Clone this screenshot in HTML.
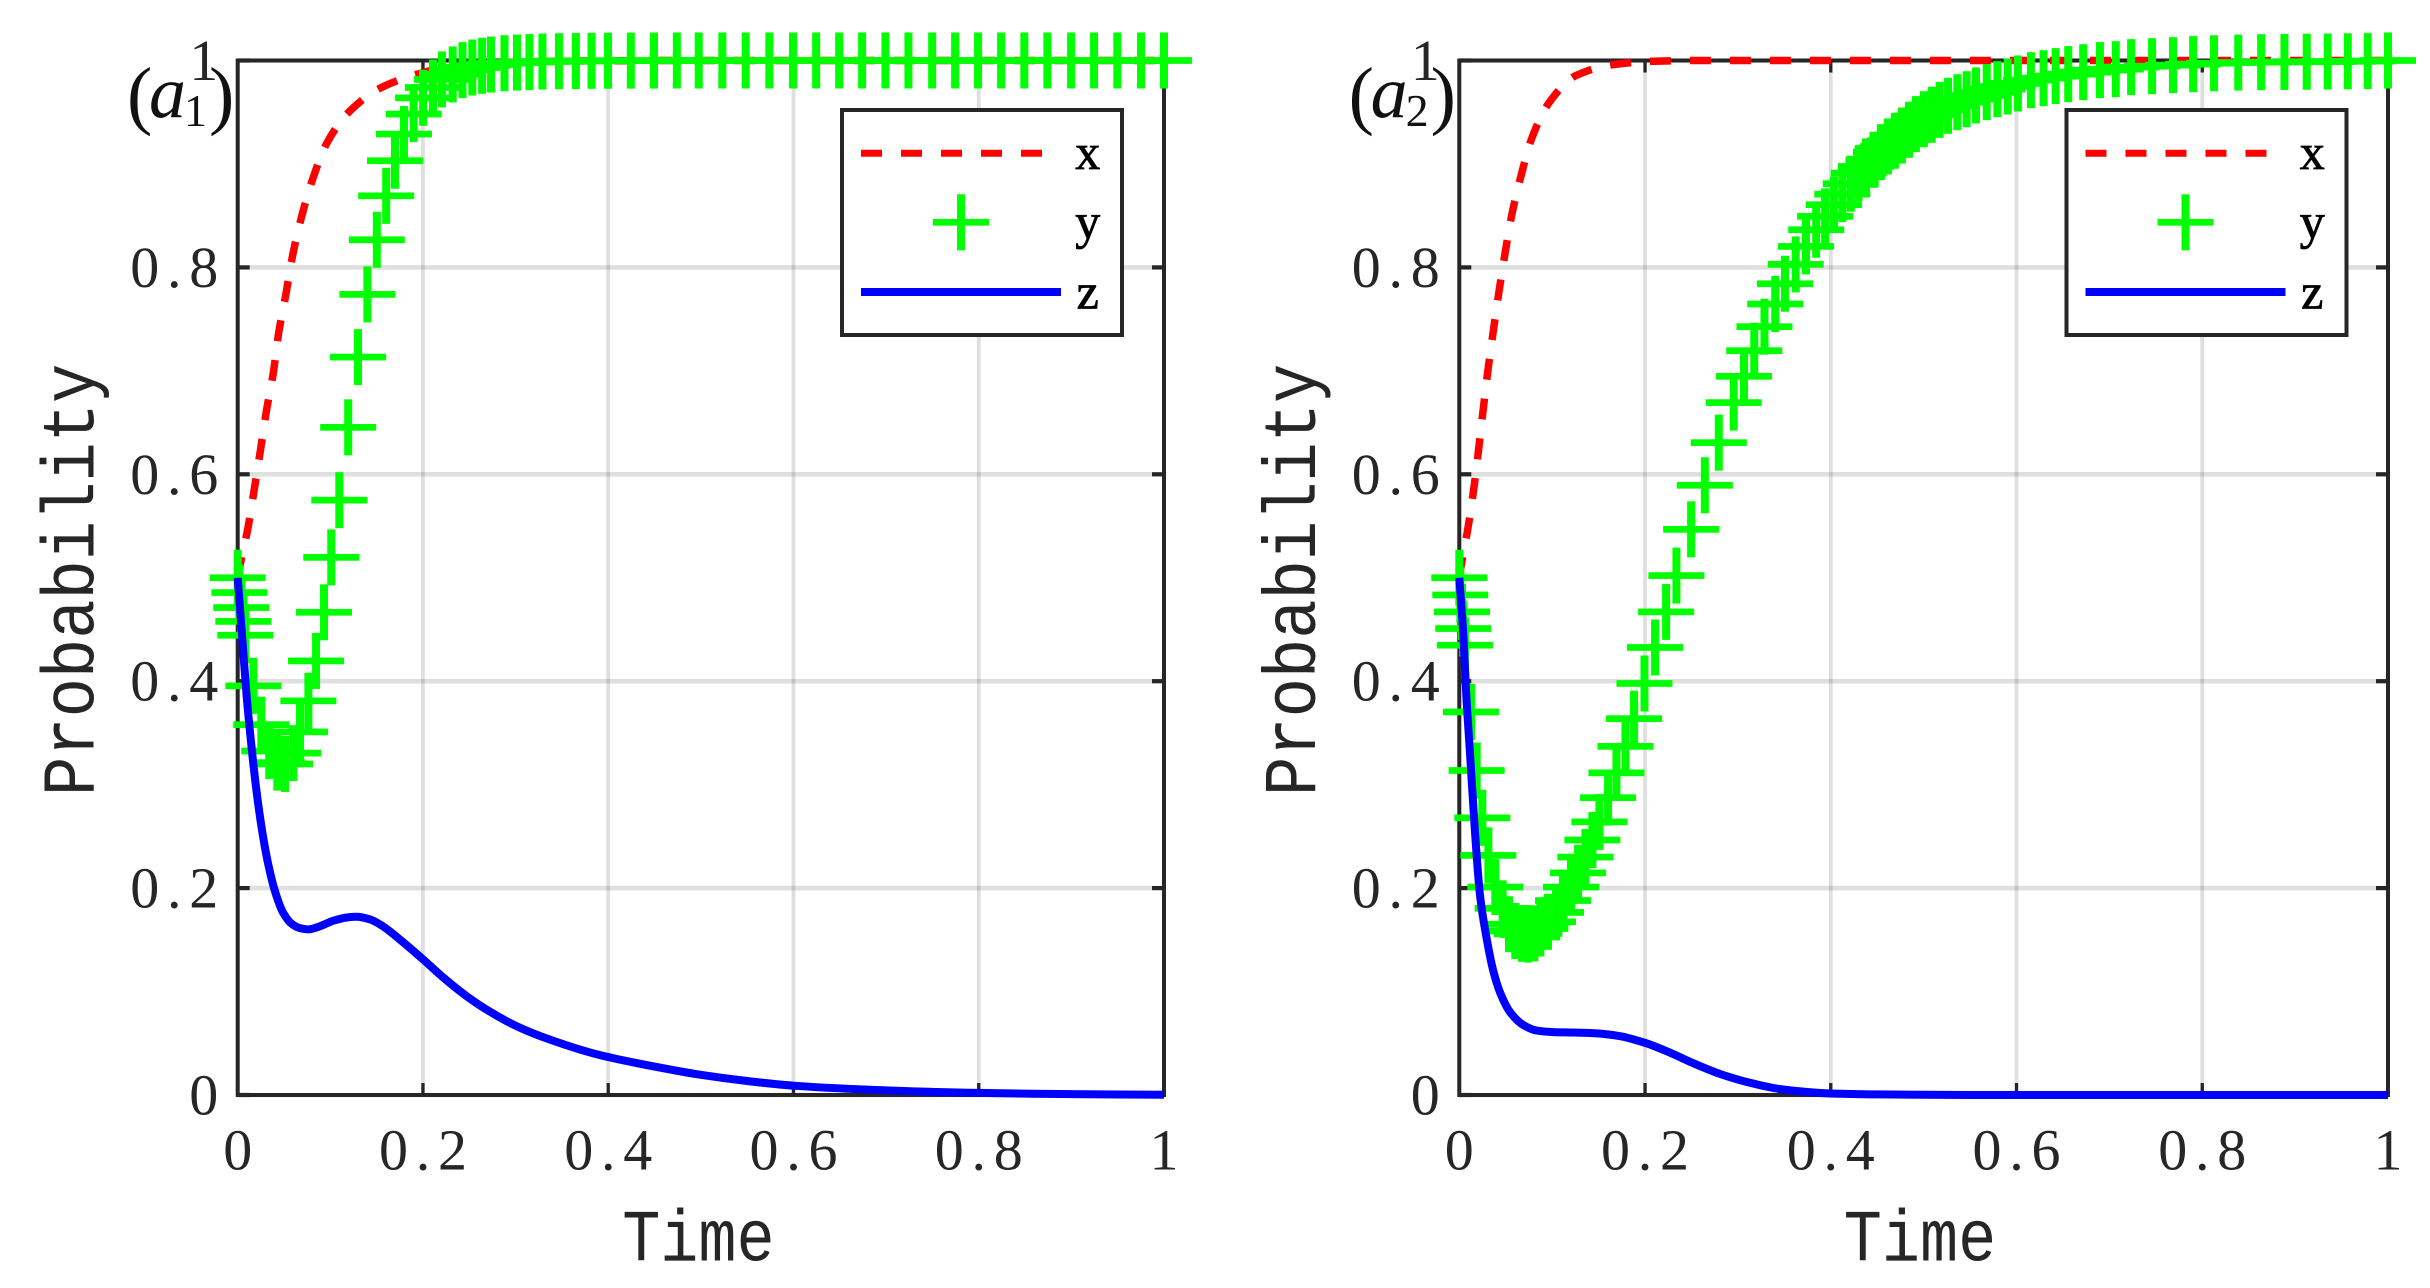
<!DOCTYPE html>
<html lang="en">
<head>
<meta charset="utf-8">
<title>Probability over time: panels a1 and a2</title>
<style>
html,body{margin:0;padding:0;background:#fff;width:2430px;height:1288px;overflow:hidden}
svg{display:block}
text{font-family:"Liberation Serif",serif;fill:#262626}
</style>
</head>
<body>
<svg id="figure" xmlns="http://www.w3.org/2000/svg" width="2430" height="1288" viewBox="0 0 2430 1288"></svg>
<script>
/* Shared axis ticks */
const xTicks = [0, 0.2, 0.4, 0.6, 0.8, 1];
const yTicks = [0, 0.2, 0.4, 0.6, 0.8, 1];
const xTickLabels = ["0", "0.2", "0.4", "0.6", "0.8", "1"];
const yTickLabels = ["0", "0.2", "0.4", "0.6", "0.8", "1"];
const legendLabels = ["x", "y", "z"];

/* Panel a1 */
const a1XTime = [0,0.005,0.0107,0.0169,0.024,0.0311,0.0383,0.0441,0.0518,0.0591,0.0687,0.0808,0.0962,0.1217,0.1545,0.1892,0.225,0.26,0.3,0.35,0.4,0.5,0.6,0.8,1];
const a1XValues = [0.5,0.523,0.5464,0.58,0.62,0.6618,0.6972,0.7359,0.7729,0.8106,0.848,0.885,0.9201,0.9517,0.9736,0.9855,0.9933,0.9965,0.9985,0.9994,0.9998,1,1,1,1];
const a1YTime = [0,0.0018,0.0039,0.0061,0.0083,0.0169,0.0255,0.0341,0.0428,0.0511,0.06,0.0673,0.0763,0.0846,0.0932,0.101,0.1097,0.1193,0.1299,0.14,0.1502,0.1603,0.1698,0.1795,0.19,0.2002,0.2108,0.2205,0.2321,0.2427,0.2533,0.2639,0.2735,0.288,0.3015,0.315,0.329,0.3468,0.3651,0.382,0.3998,0.4244,0.4494,0.4741,0.4977,0.5232,0.5484,0.574,0.5995,0.6245,0.6493,0.6741,0.6993,0.7241,0.7497,0.7745,0.7993,0.8241,0.8492,0.8741,0.8997,0.9245,0.9496,0.9752,1];
const a1YValues = [0.5,0.4857,0.4712,0.4578,0.4444,0.3955,0.358,0.3325,0.3213,0.32,0.3305,0.351,0.381,0.4196,0.4666,0.5197,0.575,0.6454,0.7133,0.7739,0.8267,0.8692,0.9031,0.9289,0.9482,0.9639,0.9739,0.9817,0.9865,0.9907,0.9932,0.9949,0.9961,0.9974,0.998,0.9985,0.999,0.9993,0.9995,0.9997,0.9998,0.9999,0.9999,1,1,1,1,1,1,1,1,1,1,1,1,1,1,1,1,1,1,1,1,1,1];
const a1ZTime = [0,0.0043,0.0097,0.0151,0.0205,0.0259,0.0331,0.0403,0.0493,0.0583,0.0673,0.0763,0.0889,0.1033,0.1177,0.1285,0.1429,0.1573,0.1752,0.2001,0.222,0.2472,0.2724,0.3012,0.3372,0.3912,0.45,0.5,0.55,0.6,0.7,0.8,0.9,1];
const a1ZValues = [0.5,0.449,0.385,0.335,0.2925,0.258,0.2225,0.1968,0.1758,0.1655,0.1613,0.1601,0.1632,0.1685,0.1716,0.1723,0.1697,0.1628,0.1502,0.1311,0.1135,0.0955,0.0805,0.0665,0.0535,0.0385,0.0275,0.0195,0.0135,0.009,0.0045,0.002,0.0008,0.0002];

/* Panel a2 */
const a2XTime = [0,0.0045,0.009,0.0162,0.0255,0.0305,0.0363,0.0424,0.0489,0.0564,0.0661,0.0776,0.0963,0.1257,0.1663,0.2094,0.26,0.4,0.6,0.8,1];
const a2XValues = [0.5,0.525,0.5464,0.59,0.6609,0.6982,0.7365,0.7746,0.8116,0.8503,0.8873,0.9237,0.9587,0.9855,0.9961,0.9993,1,1,1,1,1];
const a2YTime = [0,0.0011,0.0029,0.0043,0.0061,0.0126,0.0187,0.0248,0.0313,0.0388,0.0467,0.0535,0.0603,0.0672,0.074,0.0808,0.0873,0.0955,0.1042,0.1117,0.1203,0.1279,0.1358,0.1433,0.1509,0.1602,0.1692,0.1789,0.1882,0.1994,0.2108,0.2227,0.2338,0.2496,0.2644,0.2794,0.2955,0.3066,0.3176,0.3286,0.3402,0.3507,0.3622,0.3733,0.3843,0.3939,0.4034,0.4124,0.4215,0.43,0.4379,0.446,0.454,0.4615,0.4691,0.4766,0.4842,0.4916,0.5002,0.5087,0.5172,0.5263,0.5363,0.5463,0.5564,0.5679,0.5794,0.5905,0.6015,0.6155,0.6291,0.6421,0.6557,0.6718,0.6898,0.7069,0.7234,0.746,0.7685,0.7902,0.8127,0.8388,0.8634,0.8885,0.9125,0.9351,0.9567,0.9782,1];
const a2YValues = [0.5,0.4834,0.467,0.4509,0.4348,0.3703,0.3137,0.2679,0.2316,0.201,0.1804,0.1651,0.1585,0.1558,0.1551,0.1562,0.1609,0.1674,0.1765,0.188,0.201,0.2147,0.23,0.2465,0.264,0.2874,0.3114,0.337,0.3638,0.3978,0.4326,0.467,0.5021,0.5468,0.5894,0.6306,0.6693,0.6947,0.7195,0.7427,0.7646,0.7842,0.8029,0.8203,0.8364,0.8493,0.8606,0.8708,0.8809,0.8911,0.8976,0.904,0.9114,0.9169,0.9224,0.9275,0.933,0.9385,0.9433,0.9475,0.9523,0.9562,0.9597,0.9626,0.9662,0.9694,0.9723,0.9749,0.9778,0.981,0.9829,0.9849,0.9868,0.9887,0.9907,0.9916,0.9936,0.9945,0.9955,0.9965,0.9974,0.998,0.9984,0.9986,0.9988,0.999,0.9992,0.9994,1];
const a2ZTime = [0,0.0043,0.0079,0.0115,0.0169,0.0223,0.0295,0.0366,0.0438,0.0546,0.069,0.0833,0.1013,0.1228,0.148,0.1731,0.2,0.227,0.2522,0.2809,0.3096,0.3455,0.4,0.45,0.5,0.6,0.8,1];
const a2ZValues = [0.5,0.445,0.38,0.3305,0.254,0.193,0.151,0.12,0.0993,0.0802,0.0676,0.0623,0.0608,0.0604,0.0596,0.0569,0.0504,0.0409,0.0306,0.0203,0.0126,0.0057,0.0015,0.0006,0.0002,0,0,0];

const NS = "http://www.w3.org/2000/svg";
const AXIS = "#262626";
const MONO = '"Liberation Mono",monospace';
const svgRoot = document.getElementById("figure");

function make(parent, tag, attrs, content) {
  const node = document.createElementNS(NS, tag);
  for (const k in attrs) node.setAttribute(k, attrs[k]);
  if (content !== undefined) node.textContent = content;
  parent.appendChild(node);
  return node;
}

/* Monotone cubic through the pixel points, so the ODE curves stay smooth */
function smoothPath(px, py) {
  const n = px.length, d = [], m = [];
  for (let i = 0; i < n - 1; i++) d.push((py[i + 1] - py[i]) / (px[i + 1] - px[i]));
  m.push(d[0]);
  for (let i = 1; i < n - 1; i++) {
    if (d[i - 1] * d[i] <= 0) { m.push(0); continue; }
    const h0 = px[i] - px[i - 1], h1 = px[i + 1] - px[i];
    const w0 = 2 * h1 + h0, w1 = h1 + 2 * h0;
    m.push((w0 + w1) / (w0 / d[i - 1] + w1 / d[i]));
  }
  m.push(d[n - 2]);
  let path = "M" + px[0].toFixed(2) + " " + py[0].toFixed(2);
  for (let i = 0; i < n - 1; i++) {
    const h = (px[i + 1] - px[i]) / 3;
    path += "C" + (px[i] + h).toFixed(2) + " " + (py[i] + m[i] * h).toFixed(2) + " " +
      (px[i + 1] - h).toFixed(2) + " " + (py[i + 1] - m[i + 1] * h).toFixed(2) + " " +
      px[i + 1].toFixed(2) + " " + py[i + 1].toFixed(2);
  }
  return path;
}

/* Tick labels are pitched like a fixed-width face */
function charPositions(label, firstCentre, pitch, size) {
  const xs = [];
  for (let i = 0; i < label.length; i++) {
    const adv = (label[i] === "." ? 0.25 : 0.5) * size;
    xs.push((firstCentre + i * pitch - adv / 2).toFixed(2));
  }
  return xs.join(" ");
}

function plusMarker(parent, cx, cy, name) {
  const g = make(parent, "g", {});
  
  
  make(g, "rect", { x: cx - 28, y: cy - 3.35, width: 56, height: 6.7, fill: "#00ff00" });
  make(g, "rect", { x: cx - 4, y: cy - 28, width: 8, height: 56, fill: "#00ff00" });
}

function drawPanel(id, left, right, legendDx, tag, xT, xV, yT, yV, zT, zV) {
  const top = 60.5, bottom = 1095;
  const sx = t => left + t * (right - left);
  const sy = v => bottom - v * (bottom - top);

  const panel = make(svgRoot, "g", {});
  
  

  const grid = make(panel, "g", { stroke: AXIS, "stroke-opacity": 0.15 });
  
  
  xTicks.forEach(t => make(grid, "line", { x1: sx(t), x2: sx(t), y1: top, y2: bottom, "stroke-width": 3.8 }));
  yTicks.forEach(v => make(grid, "line", { x1: left, x2: right, y1: sy(v), y2: sy(v), "stroke-width": 4.6 }));

  const box = make(panel, "rect", { x: left, y: top, width: right - left, height: bottom - top, fill: "none", stroke: AXIS, "stroke-width": 4 });
  
  

  const ticks = make(panel, "g", { stroke: AXIS });
  
  
  xTicks.forEach(t => {
    make(ticks, "line", { x1: sx(t), x2: sx(t), y1: bottom, y2: bottom - 12, "stroke-width": 3.3 });
    make(ticks, "line", { x1: sx(t), x2: sx(t), y1: top, y2: top + 12, "stroke-width": 3.3 });
  });
  yTicks.forEach(v => {
    make(ticks, "line", { x1: left, x2: left + 12, y1: sy(v), y2: sy(v), "stroke-width": 4.2 });
    make(ticks, "line", { x1: right, x2: right - 12, y1: sy(v), y2: sy(v), "stroke-width": 4.2 });
  });

  const TICK_FONT = 58, PITCH = 29.5;
  xTickLabels.forEach((label, i) => {
    const first = sx(xTicks[i]) - (label.length - 1) * PITCH / 2;
    const n = make(panel, "text", { x: charPositions(label, first, PITCH, TICK_FONT), y: 1169.5, "font-size": TICK_FONT }, label);
    
    
  });
  yTickLabels.forEach((label, i) => {
    const first = left - 34 - (label.length - 1) * PITCH;
    const n = make(panel, "text", { x: charPositions(label, first, PITCH, TICK_FONT), y: sy(yTicks[i]) + 19.5, "font-size": TICK_FONT }, label);
    
    
  });

  const xTitle = make(panel, "text", { x: 0, y: 0, "font-size": 63.5, style: "font-family:" + MONO, transform: "translate(" + (left + 384.5) + " 1260.5) scale(1 1.16)" }, "Time");
  
  

  const yTitle = make(panel, "text", { x: 0, y: 0, "font-size": 65.5, style: "font-family:" + MONO, transform: "translate(" + (left - 144.3) + " 796) rotate(-90) scale(1 1.14)" }, "Probability");
  
  

  const xLine = make(panel, "path", { d: smoothPath(xT.map(sx), xV.map(sy)), fill: "none", stroke: "#ff0000", "stroke-width": 7.5, "stroke-dasharray": "21 19" });
  
  

  const yGroup = make(panel, "g", {});
  
  
  yT.forEach((t, i) => plusMarker(yGroup, sx(t), sy(yV[i]), "y-point"));

  const zLine = make(panel, "path", { d: smoothPath(zT.map(sx), zV.map(sy)), fill: "none", stroke: "#0000ff", "stroke-width": 8 });
  
  

  /* Panel tag such as (a1) */
  const dx = left - 237.7;
  const tagText = make(panel, "text", {});
  
  
  make(tagText, "tspan", { x: 127 + dx, y: 120, "font-size": 76, style: "fill:#111" }, "(");
  make(tagText, "tspan", { x: 149 + dx, y: 117, "font-size": 74, "font-style": "italic", style: "fill:#111" }, "a");
  make(tagText, "tspan", { x: 184 + dx, y: 126, "font-size": 46, style: "fill:#111" }, tag);
  make(tagText, "tspan", { x: 209 + dx, y: 120, "font-size": 76, style: "fill:#111" }, ")");

  /* Legend */
  const legend = make(panel, "g", { transform: "translate(" + legendDx + " 0)" });
  
  
  make(legend, "rect", { x: 842, y: 110, width: 280, height: 225, fill: "#fff", stroke: AXIS, "stroke-width": 4 });
  const keyX = make(legend, "line", { x1: 861, x2: 1042, y1: 153.3, y2: 153.3, stroke: "#ff0000", "stroke-width": 7, "stroke-dasharray": "21 19" });
  
  
  plusMarker(legend, 961, 222.3, "legend-key-y");
  const keyZ = make(legend, "line", { x1: 861, x2: 1061, y1: 292, y2: 292, stroke: "#0000ff", "stroke-width": 8 });
  
  
  const legendBaselines = [169, 238.3, 308.3];
  legendLabels.forEach((label, i) => {
    const n = make(legend, "text", { x: 1087.7, y: legendBaselines[i], "font-size": 50, "text-anchor": "middle", style: "fill:#000;stroke:#000;stroke-width:0.8" }, label);
    
    
  });
}

drawPanel("a1", 237.7, 1164, 0, "1", a1XTime, a1XValues, a1YTime, a1YValues, a1ZTime, a1ZValues);
drawPanel("a2", 1459.3, 2388, 1224.5, "2", a2XTime, a2XValues, a2YTime, a2YValues, a2ZTime, a2ZValues);
</script>
</body>
</html>
